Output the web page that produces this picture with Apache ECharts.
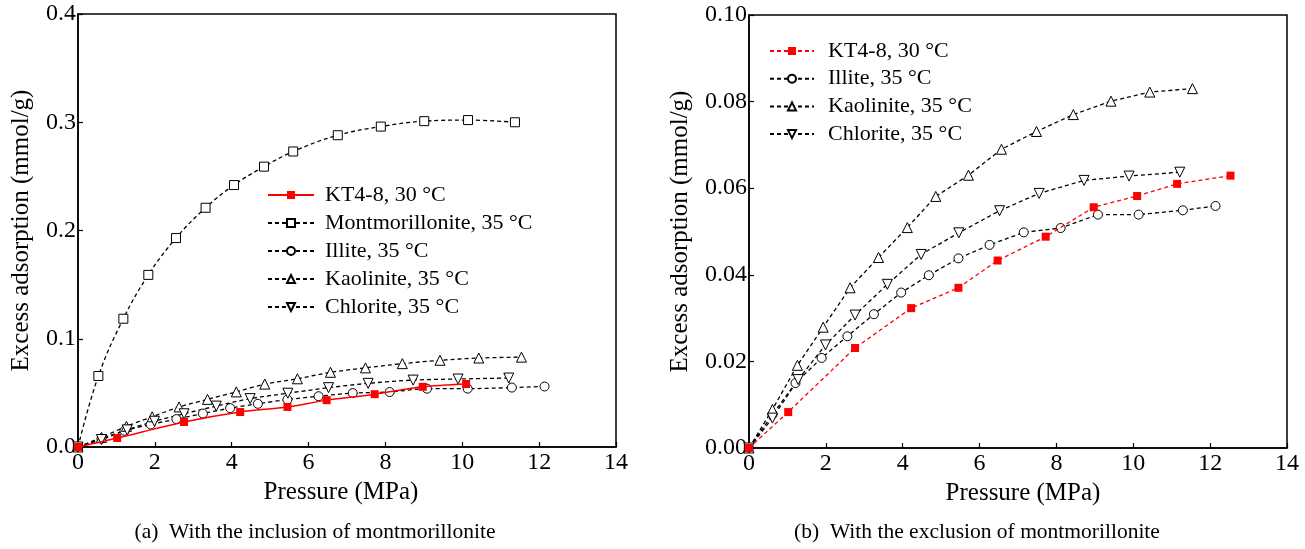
<!DOCTYPE html>
<html>
<head>
<meta charset="utf-8">
<script src="https://cdn.jsdelivr.net/npm/echarts@6/dist/echarts.min.js"></script>
<style>html,body{margin:0;padding:0;background:#fff;}#c{width:1305px;height:549px;}</style>
</head>
<body>
<div id="c"></div>
<script>
// ---- data (pressure in MPa, excess adsorption in mmol/g) ----
const ktP   = [0, 1.02, 2.76, 4.22, 5.45, 6.47, 7.72, 8.97, 10.10, 11.14, 12.53];
const ktV   = [0, 0.0083, 0.0231, 0.0323, 0.0370, 0.0433, 0.0488, 0.0556, 0.0582, 0.0610, 0.0629];
const ktLeftCount = 9; // left panel shows KT4-8 up to ~10.1 MPa
const montP = [0, 0.53, 1.18, 1.83, 2.55, 3.32, 4.06, 4.84, 5.60, 6.76, 7.88, 9.01, 10.15, 11.37];
const montV = [0, 0.0656, 0.1185, 0.159, 0.193, 0.221, 0.242, 0.259, 0.273, 0.288, 0.296, 0.301, 0.302, 0.300];
const illP  = [0, 0.61, 1.21, 1.89, 2.56, 3.25, 3.96, 4.68, 5.45, 6.26, 7.15, 8.11, 9.08, 10.14, 11.29, 12.14];
const illV  = [0, 0.0077, 0.0150, 0.0208, 0.0258, 0.0309, 0.0359, 0.0399, 0.0438, 0.0469, 0.0498, 0.0508, 0.0539, 0.0539, 0.0549, 0.0559];
const kaoP  = [0, 0.61, 1.26, 1.93, 2.63, 3.37, 4.12, 4.86, 5.71, 6.57, 7.48, 8.44, 9.42, 10.43, 11.54];
const kaoV  = [0, 0.0089, 0.0191, 0.0279, 0.0370, 0.0440, 0.0509, 0.0581, 0.0630, 0.0690, 0.0731, 0.0770, 0.0801, 0.0822, 0.0830];
const chlP  = [0, 0.61, 1.28, 1.99, 2.76, 3.60, 4.48, 5.46, 6.52, 7.55, 8.72, 9.89, 11.21];
const chlV  = [0, 0.0069, 0.0158, 0.0238, 0.0307, 0.0378, 0.0447, 0.0497, 0.0548, 0.0588, 0.0618, 0.0628, 0.0637];
const xTicks = [0, 2, 4, 6, 8, 10, 12, 14];
const yTicksA = [0, 0.1, 0.2, 0.3, 0.4];
const yTicksB = [0, 0.02, 0.04, 0.06, 0.08, 0.10];
const names = ['KT4-8, 30 \u00b0C', 'Montmorillonite, 35 \u00b0C', 'Illite, 35 \u00b0C', 'Kaolinite, 35 \u00b0C', 'Chlorite, 35 \u00b0C'];
const captions = ['(a)  With the inclusion of montmorillonite', '(b)  With the exclusion of montmorillonite'];

const pairs = (p, v, n) => p.slice(0, n || p.length).map((x, i) => [x, v[i]]);
const FONT = "'Liberation Serif','Times New Roman',serif";

function xAxis(gi, pad) {
  return {
    gridIndex: gi, type: 'value', min: xTicks[0], max: xTicks[xTicks.length - 1], interval: xTicks[1] - xTicks[0],
    name: 'Pressure (MPa)', nameLocation: 'middle', nameGap: 32,
    nameTextStyle: {fontFamily: FONT, fontSize: 25, color: '#000', padding: pad},
    axisLine: {show: true, onZero: false, lineStyle: {color: '#000', width: 1.5}},
    axisTick: {show: true, inside: true, length: 5, lineStyle: {color: '#000', width: 1.2}},
    axisLabel: {fontFamily: FONT, fontSize: 24, color: '#000', margin: 4},
    splitLine: {show: false}
  };
}
function yAxis(gi, ticks, dec, gap) {
  return {
    gridIndex: gi, type: 'value', min: ticks[0], max: ticks[ticks.length - 1], interval: ticks[1] - ticks[0],
    name: 'Excess adsorption (mmol/g)', nameLocation: 'middle', nameGap: gap,
    nameTextStyle: {fontFamily: FONT, fontSize: 25, color: '#000'},
    axisLine: {show: true, onZero: false, lineStyle: {color: '#000', width: 1.5}},
    axisTick: {show: true, inside: true, length: 5, lineStyle: {color: '#000', width: 1.2}},
    axisLabel: {fontFamily: FONT, fontSize: 24, color: '#000', margin: 2, formatter: v => v.toFixed(dec)},
    splitLine: {show: false}
  };
}
const dash = [4, 3];
function s(name, data, gi, opt) {
  return Object.assign({
    name: name, type: 'line', xAxisIndex: gi, yAxisIndex: gi, data: data,
    symbolSize: 8, showAllSymbol: true, animation: false,
    lineStyle: {color: '#000', width: 1.3, type: dash},
    itemStyle: {color: '#fff', borderColor: '#000', borderWidth: 1}
  }, opt);
}
const red = {lineStyle: {color: '#ff0000', width: 1.5, type: 'solid'}, itemStyle: {color: '#ff0000', borderColor: '#ff0000', borderWidth: 0}, symbol: 'rect', symbolSize: 8};
const redDash = {lineStyle: {color: '#ff0000', width: 1.3, type: dash}, itemStyle: {color: '#ff0000', borderColor: '#ff0000', borderWidth: 0}, symbol: 'rect', symbolSize: 8};

const series = [
  s(names[0], pairs(ktP, ktV, ktLeftCount), 0, Object.assign({smooth: 0.3, z: 5}, red)),
  s(names[1], pairs(montP, montV), 0, {symbol: 'rect', symbolSize: 9, smooth: 0.4}),
  s(names[2], pairs(illP, illV), 0, {symbol: 'circle', symbolSize: 9, smooth: 0.3}),
  s(names[3], pairs(kaoP, kaoV), 0, {symbol: 'triangle', symbolSize: 10, smooth: 0.3}),
  s(names[4], pairs(chlP, chlV), 0, {symbol: 'triangle', symbolRotate: 180, symbolSize: 10, smooth: 0.3}),
  s(names[0] + ' ', pairs(ktP, ktV), 1, Object.assign({z: 5}, redDash)),
  s(names[2] + ' ', pairs(illP, illV), 1, {symbol: 'circle', symbolSize: 9}),
  s(names[3] + ' ', pairs(kaoP, kaoV), 1, {symbol: 'triangle', symbolSize: 10}),
  s(names[4] + ' ', pairs(chlP, chlV), 1, {symbol: 'triangle', symbolRotate: 180, symbolSize: 10})
];

const option = {
  backgroundColor: '#fff',
  animation: false,
  grid: [
    {left: 78, top: 14, width: 538, height: 433, show: true, borderColor: '#000', borderWidth: 1.5, backgroundColor: 'transparent'},
    {left: 749, top: 15, width: 538, height: 433, show: true, borderColor: '#000', borderWidth: 1.5, backgroundColor: 'transparent'}
  ],
  xAxis: [xAxis(0, [0, 12, 0, 0]), xAxis(1, [0, 0, 0, 10])],
  yAxis: [yAxis(0, yTicksA, 1, 44), yAxis(1, yTicksB, 2, 56)],
  legend: [
    {data: names, left: 267, top: 184, padding: 0, orient: 'vertical', itemWidth: 46, itemHeight: 10, itemGap: 6,
     textStyle: {fontFamily: FONT, fontSize: 22, color: '#000', padding: [0, 0, 0, 6]}, selectedMode: false},
    {data: [names[0] + ' ', names[2] + ' ', names[3] + ' ', names[4] + ' '], left: 769, top: 40, padding: 0, orient: 'vertical', itemWidth: 44, itemHeight: 10, itemGap: 5.7,
     textStyle: {fontFamily: FONT, fontSize: 22, color: '#000', padding: [0, 0, 0, 9]}, selectedMode: false}
  ],
  graphic: [
    {type: 'text', x: 315, y: 532, style: {text: captions[0], fontFamily: FONT, fontSize: 21.5, fill: '#000', textAlign: 'center', textVerticalAlign: 'middle'}},
    {type: 'text', x: 977, y: 532, style: {text: captions[1], fontFamily: FONT, fontSize: 21.5, fill: '#000', textAlign: 'center', textVerticalAlign: 'middle'}}
  ],
  series: series
};
const chart = echarts.init(document.getElementById('c'), null, {renderer: 'canvas'});
chart.setOption(option);
</script>
</body>
</html>
